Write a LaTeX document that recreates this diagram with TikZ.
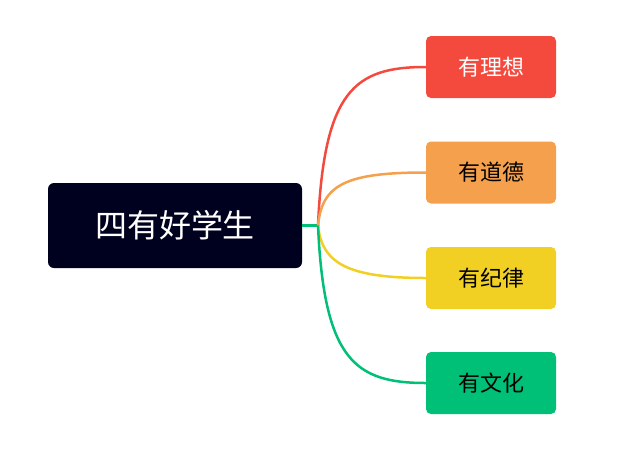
\documentclass[tikz,border=0pt]{standalone}
\usepackage{fontspec}
\newfontfamily\cjk{Noto Sans CJK SC}
\definecolor{navy}{HTML}{00001F}
\definecolor{cr}{HTML}{F44A3E}
\definecolor{co}{HTML}{F5A04C}
\definecolor{cy}{HTML}{F2D023}
\definecolor{cg}{HTML}{00BF77}
\begin{document}
\begin{tikzpicture}[x=1pt,y=-1pt,
  leaf/.style={rounded corners=5pt,minimum width=130pt,minimum height=62pt,inner sep=0pt,font=\cjk\fontsize{22}{26}\selectfont},
  br/.style={line width=2.5pt}]
\useasboundingbox (0,0) rectangle (643,459);
\node[fill=navy,rounded corners=6pt,minimum width=254pt,minimum height=85pt,text=white,font=\cjk\fontsize{32}{38}\selectfont] (root) at (175,225.5) {四有好学生};
\node[leaf,fill=cr,text=white] (a) at (491,67) {有理想};
\node[leaf,fill=co,text=black] (b) at (491,172.5) {有道德};
\node[leaf,fill=cy,text=black] (c) at (491,278) {有纪律};
\node[leaf,fill=cg,text=black] (d) at (491,383) {有文化};
\coordinate (j) at (318,225.5);
\draw[br,cg] (root.east) -- (j);
\draw[br,cr] (j) .. controls (324,90) and (355,67) .. (a.west);
\draw[br,co] (j) .. controls (322,185) and (345,172.5) .. (b.west);
\draw[br,cy] (j) .. controls (322,262) and (345,278) .. (c.west);
\draw[br,cg] (j) .. controls (324,360) and (355,383) .. (d.west);
\end{tikzpicture}
\end{document}
